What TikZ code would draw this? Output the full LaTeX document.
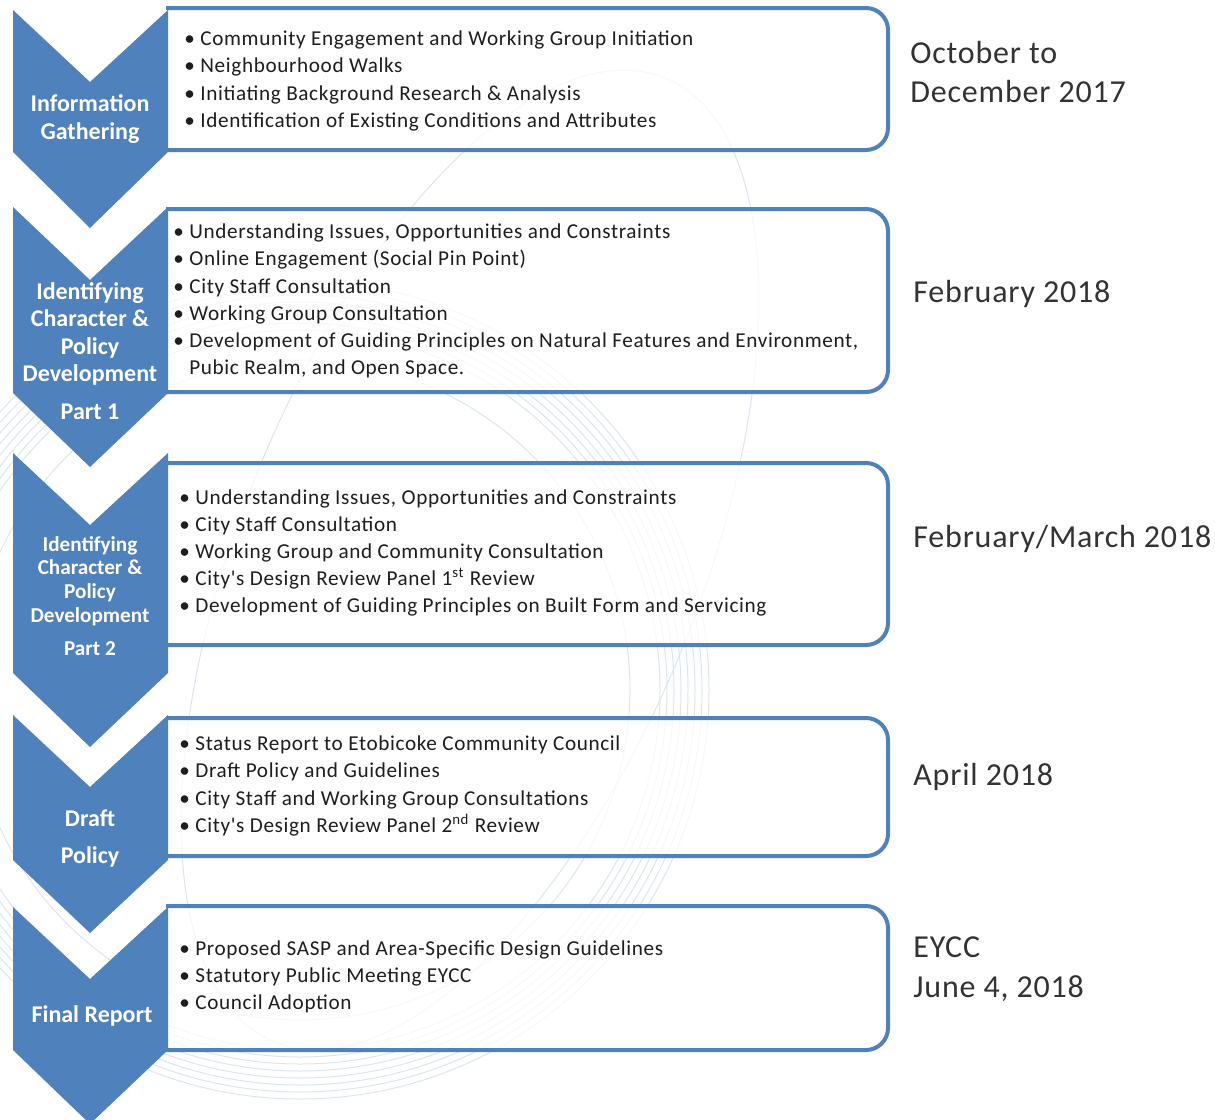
\documentclass[tikz,border=0pt]{standalone}
\usepackage{fontspec}
\setmainfont{Carlito}
\newfontfamily\listfont[LetterSpace=3]{Carlito}
\newfontfamily\datefont[LetterSpace=2.5]{Carlito}
\usepackage{xcolor}
\usepackage{tikz}

\definecolor{stageblue}{HTML}{4F81BD}
\definecolor{ringblue}{HTML}{DCE5EF}
\definecolor{listgray}{HTML}{1E1E1E}
\definecolor{dategray}{HTML}{333333}

\tikzset{
    stagearrow/.style={fill=stageblue, draw=none},
    stagebox/.style={draw=stageblue, line width=2pt, rounded corners=11pt},
    stagelabel/.style={text=white, align=center, inner sep=0pt,
        font=\bfseries\fontsize{12}{13.6}\selectfont},
    listitems/.style={text=listgray, align=left, anchor=west, inner sep=0pt,
        font=\listfont\fontsize{10.6}{13.6}\selectfont},
    datelabel/.style={text=dategray, align=left, anchor=west, inner sep=0pt,
        font=\datefont\fontsize{16}{19.8}\selectfont},
    ring/.style={draw=ringblue, line width=0.5pt}
}

\begin{document}
\begin{tikzpicture}[x=0.5pt, y=-0.5pt]
        \useasboundingbox (0,0) rectangle (1215,1119);
        % faint rings behind everything
        \begin{scope}
            \clip (0,0) rectangle (1215,1119);
            \draw[ring] (300,690) circle [radius=165pt];
            \foreach \r in {180,183.5,...,206}
                \draw[ring] (300,690) circle [radius=\r pt];
            \draw[ring, rotate around={-22:(470,560)}] (470,560) ellipse [x radius=115pt, y radius=260pt];
        \end{scope}

        % boxes
        \fill[white, opacity=0.75] (166,8) rectangle (888,150);
        \fill[white, opacity=0.75] (166,209) rectangle (888,392);
        \fill[white, opacity=0.75] (166,463) rectangle (888,645);
        \fill[white, opacity=0.75] (166,718) rectangle (888,856);
        \fill[white, opacity=0.75] (166,906) rectangle (888,1050);
        \draw[stagebox] (166,8)   -- (888,8)   -- (888,150)  -- (166,150);
        \draw[stagebox] (166,209) -- (888,209) -- (888,392)  -- (166,392);
        \draw[stagebox] (166,463) -- (888,463) -- (888,645)  -- (166,645);
        \draw[stagebox] (166,718) -- (888,718) -- (888,856)  -- (166,856);
        \draw[stagebox] (166,906) -- (888,906) -- (888,1050) -- (166,1050);

        % chevrons
        \fill[stagearrow] (13,10)  -- (90,82)  -- (168,10)  -- (168,152)  -- (90,228)  -- (13,152)  -- cycle;
        \fill[stagearrow] (13,207) -- (90,280) -- (168,207) -- (168,393)  -- (90,467)  -- (13,393)  -- cycle;
        \fill[stagearrow] (13,453) -- (90,525) -- (168,453) -- (168,673)  -- (90,747)  -- (13,673)  -- cycle;
        \fill[stagearrow] (13,715) -- (90,787) -- (168,715) -- (168,860)  -- (90,933)  -- (13,860)  -- cycle;
        \fill[stagearrow] (13,907) -- (90,979) -- (168,907) -- (168,1050) -- (90,1124) -- (13,1050) -- cycle;

        % chevron labels
        \node (gather) [stagelabel] at (90,119) {Information\\Gathering};
        \node (char-one) [stagelabel] at (90,334) {Identifying\\Character \&\\Policy\\Development};
        \node (part-one) [stagelabel] at (90,412) {Part 1};
        \node (char-two) [stagelabel, font=\bfseries\fontsize{10.6}{11.9}\selectfont] at (90,581) {Identifying\\Character \&\\Policy\\Development};
        \node (part-two) [stagelabel, font=\bfseries\fontsize{10.6}{11.9}\selectfont] at (90,649) {Part 2};
        \node (draft) [stagelabel, font=\bfseries\fontsize{12}{18.5}\selectfont] at (90,839) {Draft\\Policy};
        \node (final) [stagelabel] at (92,1016) {Final Report};

        % lists
        \node (gather-list) [listitems] at (184,81)
            {\textbullet\ Community Engagement and Working Group Initiation\\
             \textbullet\ Neighbourhood Walks\\
             \textbullet\ Initiating Background Research \& Analysis\\
             \textbullet\ Identification of Existing Conditions and Attributes};
        \node (char-one-list) [listitems] at (173,301)
            {\textbullet\ Understanding Issues, Opportunities and Constraints\\
             \textbullet\ Online Engagement (Social Pin Point)\\
             \textbullet\ City Staff Consultation\\
             \textbullet\ Working Group Consultation\\
             \textbullet\ Development of Guiding Principles on Natural Features and Environment,\\
             \phantom{\textbullet\ }Pubic Realm, and Open Space.};
        \node (char-two-list) [listitems] at (179,553)
            {\textbullet\ Understanding Issues, Opportunities and Constraints\\
             \textbullet\ City Staff Consultation\\
             \textbullet\ Working Group and Community Consultation\\
             \textbullet\ City's Design Review Panel 1\textsuperscript{st} Review\\
             \textbullet\ Development of Guiding Principles on Built Form and Servicing};
        \node (draft-list) [listitems] at (179,786)
            {\textbullet\ Status Report to Etobicoke Community Council\\
             \textbullet\ Draft Policy and Guidelines\\
             \textbullet\ City Staff and Working Group Consultations\\
             \textbullet\ City's Design Review Panel 2\textsuperscript{nd} Review};
        \node (final-list) [listitems] at (179,977)
            {\textbullet\ Proposed SASP and Area-Specific Design Guidelines\\
             \textbullet\ Statutory Public Meeting EYCC\\
             \textbullet\ Council Adoption};

        % dates
        \node (gather-date) [datelabel] at (910,72) {October to\\December 2017};
        \node (char-one-date) [datelabel] at (913,294) {February 2018};
        \node (char-two-date) [datelabel] at (913,539) {February/March 2018};
        \node (draft-date) [datelabel] at (913,777) {April 2018};
        \node (final-date) [datelabel] at (913,969) {EYCC\\June 4, 2018};
    \end{tikzpicture}
\end{document}
